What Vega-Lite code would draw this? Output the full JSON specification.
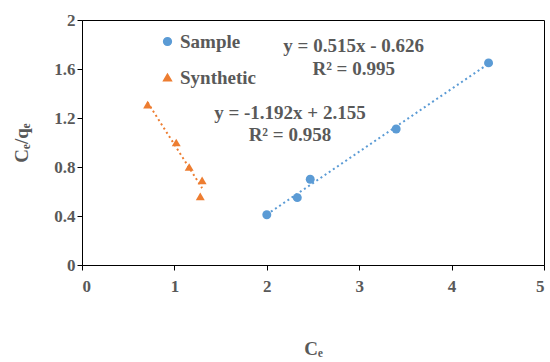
{
  "$schema": "https://vega.github.io/schema/vega-lite/v6.json",
  "width": 462,
  "height": 245,
  "autosize": {"type": "none"},
  "padding": {"left": 82, "top": 20, "right": 6, "bottom": 97},
  "background": "white",
  "config": {
    "view": {"stroke": "black", "strokeWidth": 1},
    "font": "Liberation Serif",
    "axis": {"grid": false, "domainColor": "black", "tickColor": "black", "labelColor": "#595959", "titleColor": "#595959", "labelFont": "Liberation Serif", "titleFont": "Liberation Serif", "labelFontSize": 17, "titleFontSize": 19, "labelFontWeight": "bold", "titleFontWeight": "bold", "tickSize": 5}
  },
  "datasets": {
    "pts": [
      {"series": "Sample", "Ce": 2.0, "q": 0.41},
      {"series": "Sample", "Ce": 2.33, "q": 0.55},
      {"series": "Sample", "Ce": 2.47, "q": 0.70},
      {"series": "Sample", "Ce": 3.40, "q": 1.11},
      {"series": "Sample", "Ce": 4.40, "q": 1.65},
      {"series": "Synthetic", "Ce": 0.71, "q": 1.31},
      {"series": "Synthetic", "Ce": 1.02, "q": 1.00},
      {"series": "Synthetic", "Ce": 1.16, "q": 0.80},
      {"series": "Synthetic", "Ce": 1.30, "q": 0.69},
      {"series": "Synthetic", "Ce": 1.28, "q": 0.56}
    ],
    "labels": [
      {"Ce": 2.94, "q": 1.79, "text": "y = 0.515x - 0.626"},
      {"Ce": 2.94, "q": 1.60, "text": "R² = 0.995"},
      {"Ce": 2.25, "q": 1.24, "text": "y = -1.192x + 2.155"},
      {"Ce": 2.25, "q": 1.06, "text": "R² = 0.958"}
    ]
  },
  "layer": [
    {
      "data": {"name": "pts"},
      "mark": {"type": "point", "filled": true, "opacity": 1, "size": 80},
      "encoding": {
        "x": {"field": "Ce", "type": "quantitative", "scale": {"domain": [0, 5]}, "axis": {"values": [0, 1, 2, 3, 4, 5], "format": "d", "title": "Cₑ", "titlePadding": 45, "labelPadding": 8}},
        "y": {"field": "q", "type": "quantitative", "scale": {"domain": [0, 2]}, "axis": {"values": [0, 0.4, 0.8, 1.2, 1.6, 2], "format": ".1~f", "title": "Cₑ/qₑ", "titlePadding": 22}},
        "color": {"field": "series", "type": "nominal", "title": null, "scale": {"domain": ["Sample", "Synthetic"], "range": ["#5B9BD5", "#ED7D31"]},
          "legend": {"orient": "none", "legendX": 76, "legendY": 12, "padding": 0, "rowPadding": 16, "symbolSize": 60, "labelOffset": 3, "labelFont": "Liberation Serif", "labelFontSize": 19, "labelFontWeight": "bold", "labelColor": "#595959"}},
        "shape": {"field": "series", "type": "nominal", "title": null, "scale": {"domain": ["Sample", "Synthetic"], "range": ["circle", "triangle-up"]}}
      }
    },
    {
      "data": {"name": "pts"},
      "transform": [{"regression": "q", "on": "Ce", "groupby": ["series"]}],
      "mark": {"type": "line", "strokeDash": [2, 3], "strokeWidth": 2},
      "encoding": {
        "x": {"field": "Ce", "type": "quantitative"},
        "y": {"field": "q", "type": "quantitative"},
        "color": {"field": "series", "type": "nominal", "title": null}
      }
    },
    {
      "data": {"name": "labels"},
      "mark": {"type": "text", "font": "Liberation Serif", "fontSize": 19, "fontWeight": "bold", "color": "#595959"},
      "encoding": {
        "x": {"field": "Ce", "type": "quantitative"},
        "y": {"field": "q", "type": "quantitative"},
        "text": {"field": "text"}
      }
    }
  ]
}
